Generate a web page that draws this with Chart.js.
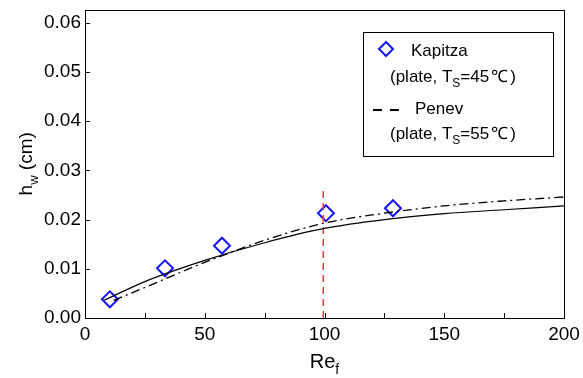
<!DOCTYPE html>
<html>
<head>
<meta charset="utf-8">
<script src="https://cdn.jsdelivr.net/npm/chart.js@4.4.0/dist/chart.umd.min.js"></script>
<style>
  html, body { margin: 0; padding: 0; background: #fff; }
  canvas { display: block; }
</style>
</head>
<body>
<canvas id="hw-chart" width="583" height="378"></canvas>
<script>
// Kapitza measurements (plate, Ts = 45C)
const kapitzaRe = [10.4, 33.4, 57.2, 100.6, 128.6];
const kapitzaHw = [0.0038, 0.0101, 0.0147, 0.0213, 0.0223];

// solid curve
const solidRe = [8, 25, 50, 75, 100, 125, 150, 175, 200];
const solidHw = [0.0036, 0.0074, 0.0117, 0.0153, 0.0182, 0.0200, 0.0212, 0.0220, 0.0228];

// Penev (plate, Ts = 55C), dash-dot
const penevRe = [12, 25, 50, 75, 100, 125, 150, 175, 200];
const penevHw = [0.0036, 0.0062, 0.0113, 0.0158, 0.0193, 0.0213, 0.0228, 0.0238, 0.0246];

// red dashed marker line
const markerRe = [99.5, 99.5];
const markerHw = [0, 0.0266];

const xTicks = [0, 50, 100, 150, 200];
const xMinorTicks = [25, 50, 75, 100, 125, 150, 175];
const yTicks = [0, 0.01, 0.02, 0.03, 0.04, 0.05, 0.06];
const yMinorTicks = [0.01, 0.02, 0.03, 0.04, 0.05, 0.06];

const FONT = '"Liberation Sans", Arial, Helvetica, sans-serif';
const BLUE = '#1414ff';

const toPoints = (xs, ys) => xs.map((x, i) => ({ x: x, y: ys[i] }));

function drawRich(ctx, parts, x, y, size) {
  let cx = x;
  parts.forEach(p => {
    const fs = p.sub ? Math.round(size * 0.7) : size;
    ctx.font = fs + 'px ' + FONT;
    ctx.fillText(p.t, cx, p.sub ? y + size * 0.3 : y);
    cx += ctx.measureText(p.t).width + (p.gap || 0);
  });
}

const framePlugin = {
  id: 'frame',
  afterDatasetsDraw(chart) {
    const ctx = chart.ctx;
    const a = chart.chartArea;
    const xs = chart.scales.x, ys = chart.scales.y;
    ctx.save();
    ctx.strokeStyle = '#000';
    ctx.lineWidth = 1;
    ctx.strokeRect(a.left + 0.5, a.top + 0.5, a.right - a.left, a.bottom - a.top);

    // inward ticks
    ctx.beginPath();
    xMinorTicks.forEach(v => {
      const px = Math.round(xs.getPixelForValue(v)) + 0.5;
      ctx.moveTo(px, a.bottom);
      ctx.lineTo(px, a.bottom - 5);
    });
    yMinorTicks.forEach(v => {
      const py = Math.round(ys.getPixelForValue(v)) + 0.5;
      ctx.moveTo(a.left, py);
      ctx.lineTo(a.left + 5, py);
    });
    ctx.stroke();

    // axis titles
    ctx.fillStyle = '#000';
    ctx.textBaseline = 'alphabetic';
    ctx.textAlign = 'left';
    ctx.font = '20px ' + FONT;
    const reW = ctx.measureText('Re').width;
    drawRich(ctx, [{ t: 'Re' }, { t: 'f', sub: true }], (a.left + a.right) / 2 - reW / 2 - 2, 368, 20);

    ctx.save();
    ctx.translate(32, 164);
    ctx.rotate(-Math.PI / 2);
    ctx.font = '19px ' + FONT;
    const tw = ctx.measureText('h').width + ctx.measureText(' (cm)').width + 9;
    drawRich(ctx, [{ t: 'h' }, { t: 'w', sub: true }, { t: ' (cm)' }], -tw / 2, 0, 19);
    ctx.restore();

    // legend
    ctx.strokeRect(363.5, 32.5, 190, 124);
    ctx.strokeStyle = BLUE;
    ctx.lineWidth = 2;
    ctx.beginPath();
    ctx.moveTo(379, 49);
    ctx.lineTo(386, 42);
    ctx.lineTo(393, 49);
    ctx.lineTo(386, 56);
    ctx.closePath();
    ctx.stroke();

    ctx.strokeStyle = '#000';
    ctx.beginPath();
    ctx.moveTo(373, 110); ctx.lineTo(382, 110);
    ctx.moveTo(390, 110); ctx.lineTo(399, 110);
    ctx.stroke();

    ctx.fillStyle = '#000';
    drawRich(ctx, [{ t: 'Kapitza' }], 411, 56, 17);
    drawRich(ctx, [{ t: '(plate, T' }, { t: 'S', sub: true }, { t: '=45', gap: 2 }, { t: '\u2103', gap: 2 }, { t: ')' }], 390, 82, 17);
    drawRich(ctx, [{ t: 'Penev' }], 415, 114, 17);
    drawRich(ctx, [{ t: '(plate, T' }, { t: 'S', sub: true }, { t: '=55', gap: 2 }, { t: '\u2103', gap: 2 }, { t: ')' }], 390, 139, 17);
    ctx.restore();
  }
};

const tickFont = { family: FONT, size: 19 };

const chart = new Chart(document.getElementById('hw-chart').getContext('2d'), {
  type: 'scatter',
  data: {
    datasets: [
      {
        label: 'fit',
        data: toPoints(solidRe, solidHw),
        showLine: true,
        borderColor: '#000',
        borderWidth: 1.2,
        pointRadius: 0,
        cubicInterpolationMode: 'monotone'
      },
      {
        label: 'Penev',
        data: toPoints(penevRe, penevHw),
        showLine: true,
        borderColor: '#000',
        borderWidth: 1.3,
        borderDash: [9, 4, 2, 4],
        pointRadius: 0,
        cubicInterpolationMode: 'monotone'
      },
      {
        label: 'marker',
        data: toPoints(markerRe, markerHw),
        showLine: true,
        borderColor: '#ee3a35',
        borderWidth: 1.5,
        borderDash: [7, 5],
        pointRadius: 0
      },
      {
        label: 'Kapitza',
        data: toPoints(kapitzaRe, kapitzaHw),
        showLine: false,
        pointStyle: 'rectRot',
        pointRadius: 8,
        pointBorderWidth: 2,
        pointBorderColor: BLUE,
        pointBackgroundColor: 'rgba(255,255,255,0)'
      }
    ]
  },
  options: {
    responsive: false,
    animation: false,
    devicePixelRatio: 1,
    layout: { padding: { top: 7, right: 19, left: 0, bottom: 0 } },
    plugins: {
      legend: { display: false },
      tooltip: { enabled: false }
    },
    scales: {
      x: {
        type: 'linear',
        min: 0,
        max: 200,
        afterBuildTicks: s => { s.ticks = xTicks.map(v => ({ value: v })); },
        afterFit: s => { s.height = 60; s.paddingLeft = 0; s.paddingRight = 0; },
        grid: { display: false, drawTicks: false },
        border: { display: false },
        ticks: { font: tickFont, color: '#000', padding: 5, maxRotation: 0 }
      },
      y: {
        type: 'linear',
        min: 0,
        max: 0.0626,
        afterBuildTicks: s => { s.ticks = yTicks.map(v => ({ value: v })); },
        afterFit: s => { s.width = 85; s.paddingTop = 0; s.paddingBottom = 0; },
        grid: { display: false, drawTicks: false },
        border: { display: false },
        ticks: { font: tickFont, color: '#000', padding: 4, callback: v => v.toFixed(2) }
      }
    }
  },
  plugins: [framePlugin]
});
</script>
</body>
</html>
